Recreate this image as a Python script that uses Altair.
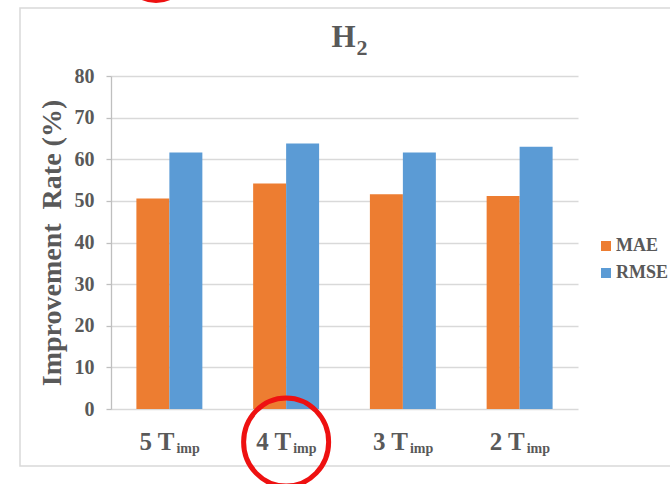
import altair as alt
import pandas as pd

# ---- data ----
categories = ["5 Timp", "4 Timp", "3 Timp", "2 Timp"]
label_main = ["5 T", "4 T", "3 T", "2 T"]
label_sub = ["imp", "imp", "imp", "imp"]
series = ["MAE", "RMSE"]
mae = [50.6, 54.2, 51.6, 51.2]
rmse = [61.6, 63.8, 61.6, 63.0]
colors = ["#ED7D31", "#5B9BD5"]
y_ticks = [0, 10, 20, 30, 40, 50, 60, 70, 80]
title_main = ["H"]
title_sub = ["2"]
y_title = "Improvement\u00a0 Rate (%)"
highlight = ["4 Timp"]

rows = []
for c, a, b in zip(categories, mae, rmse):
    rows.append({"cat": c, "series": "MAE", "value": a})
    rows.append({"cat": c, "series": "RMSE", "value": b})
df = pd.DataFrame(rows)
lab = pd.DataFrame({"cat": categories, "main": label_main, "sub": label_sub})
hl = pd.DataFrame({"cat": highlight})
one = pd.DataFrame({"a": [0]})

FONT = "Liberation Serif"
GREY = "#595959"

xscale = alt.Scale(domain=categories, paddingInner=0.435, paddingOuter=0.2175)

bars = alt.Chart(df).mark_bar().encode(
    x=alt.X("cat:N", scale=xscale, sort=categories,
            axis=alt.Axis(labels=False, ticks=False, title=None, grid=False,
                          domainColor="#bfbfbf", domainWidth=1.3)),
    xOffset=alt.XOffset("series:N", sort=series,
                        scale=alt.Scale(paddingInner=0, paddingOuter=0)),
    y=alt.Y("value:Q", scale=alt.Scale(domain=[0, 80], nice=False),
            axis=alt.Axis(values=y_ticks, title=y_title, grid=True,
                          gridColor="#d9d9d9", gridWidth=1.3,
                          domainColor="#bfbfbf", domainWidth=1.3,
                          tickColor="#bfbfbf", tickSize=5, tickWidth=1.3,
                          labelFont=FONT, labelFontSize=20, labelFontWeight="bold",
                          labelColor=GREY, labelPadding=12,
                          titleFont=FONT, titleFontSize=28, titleFontWeight="bold",
                          titleColor=GREY, titleAngle=270, titleX=-59, titleY=166.5,
                          titleAlign="center", titleBaseline="middle")),
    color=alt.Color("series:N", scale=alt.Scale(domain=series, range=colors),
                    legend=alt.Legend(title=None, orient="none", legendX=486, legendY=161,
                                      symbolType="square", symbolSize=100,
                                      symbolStrokeWidth=0,
                                      labelFont=FONT, labelFontSize=18,
                                      labelFontWeight="bold", labelColor=GREY,
                                      rowPadding=9, labelOffset=1, padding=0)),
)

xlab_main = alt.Chart(lab).mark_text(
    font=FONT, fontSize=25, fontWeight="bold", color=GREY,
    align="right", baseline="alphabetic", dx=5
).encode(x=alt.X("cat:N", scale=xscale, sort=categories, axis=None),
         y=alt.value(374), text="main:N")

xlab_sub = alt.Chart(lab).mark_text(
    font=FONT, fontSize=14, fontWeight="bold", color=GREY,
    align="left", baseline="alphabetic", dx=7
).encode(x=alt.X("cat:N", scale=xscale, sort=categories, axis=None),
         y=alt.value(377), text="sub:N")

t_main = alt.Chart(pd.DataFrame({"t": title_main})).mark_text(
    font=FONT, fontSize=31, fontWeight="bold", color=GREY,
    align="center", baseline="alphabetic"
).encode(x=alt.value(232.5), y=alt.value(-29), text="t:N")

t_sub = alt.Chart(pd.DataFrame({"t": title_sub})).mark_text(
    font=FONT, fontSize=22, fontWeight="bold", color=GREY,
    align="left", baseline="alphabetic"
).encode(x=alt.value(245.5), y=alt.value(-21), text="t:N")

frame = alt.Chart(one).mark_rect(
    fill="transparent", stroke="#d9d9d9", strokeWidth=1.5
).encode(x=alt.value(-91), x2=alt.value(575), y=alt.value(-68), y2=alt.value(390))

ellipse_path = "M -0.966 0 A 0.966 1 0 1 1 0.966 0 A 0.966 1 0 1 1 -0.966 0 Z"
ring = alt.Chart(hl).mark_point(
    shape=ellipse_path, size=7744, filled=False, stroke="#EE1111",
    strokeWidth=5, opacity=1
).encode(x=alt.X("cat:N", scale=xscale, sort=categories, axis=None),
         y=alt.value(366))

top_arc = alt.Chart(one).mark_point(
    shape="circle", size=4096, filled=False, stroke="#EE1111",
    strokeWidth=4, opacity=1
).encode(x=alt.value(45), y=alt.value(-107))

chart = alt.layer(frame, bars, xlab_main, xlab_sub, t_main, t_sub, ring, top_arc).properties(
    width=467, height=333,
    padding={"left": 111, "top": 76, "right": 92, "bottom": 75},
    autosize=alt.AutoSizeParams(type="none"),
    background="white",
).configure_view(stroke=None)

chart.save("out.html", embed_options={"renderer": "svg", "actions": False})
